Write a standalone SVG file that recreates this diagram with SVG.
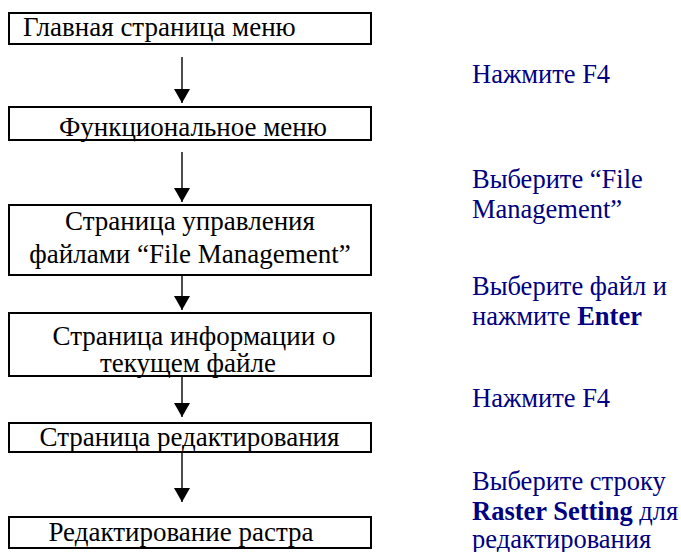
<svg xmlns="http://www.w3.org/2000/svg" width="681" height="552" viewBox="0 0 681 552">
<style>
.box{fill:#fff;stroke:#000;stroke-width:2}
.t{font-family:"Liberation Serif","Times New Roman",serif;font-size:27px;fill:#000}
.c{text-anchor:middle}
.n{font-family:"Liberation Serif","Times New Roman",serif;font-size:26.5px;fill:#000080}
.b{font-weight:bold}
.arr{stroke:#000;stroke-width:1.4;fill:none;marker-end:url(#ah)}
</style>
<defs>
<marker id="ah" viewBox="0 0 14 16" refX="14" refY="8" markerWidth="14" markerHeight="16" markerUnits="userSpaceOnUse" orient="auto">
<path d="M0,0 L14,8 L0,16 z" fill="#000"/>
</marker>
</defs>
<g id="connectors">
<line class="arr" x1="182" y1="57" x2="182" y2="103"/>
<line class="arr" x1="182" y1="152" x2="182" y2="202"/>
<line class="arr" x1="182" y1="263" x2="182" y2="310"/>
<line class="arr" x1="182" y1="363" x2="182" y2="417"/>
<line class="arr" x1="182" y1="452" x2="182" y2="502"/>
</g>
<g id="n1"><rect class="box" x="9" y="13" width="362" height="31"/><text class="t" x="23" y="36">Главная страница меню</text></g>
<g id="n2"><rect class="box" x="9" y="107" width="362" height="33"/><text class="t c" x="193" y="136">Функциональное меню</text></g>
<g id="n3"><rect class="box" x="9" y="205" width="362" height="70"/><text class="t c" x="190" y="230">Страница управления</text><text class="t c" x="190" y="263">файлами “File Management”</text></g>
<g id="n4"><rect class="box" x="9" y="313" width="362" height="63"/><text class="t c" x="194" y="345">Страница информации о</text><text class="t c" x="188" y="372">текущем файле</text></g>
<g id="n5"><rect class="box" x="9" y="423" width="362" height="29"/><text class="t c" x="189.5" y="446">Страница редактирования</text></g>
<g id="n6"><rect class="box" x="9" y="517" width="362" height="31"/><text class="t c" x="181" y="541">Редактирование растра</text></g>
<g id="notes">
<text class="n" x="472" y="83">Нажмите F4</text>
<text class="n" x="472" y="188">Выберите “File</text>
<text class="n" x="472" y="218">Management”</text>
<text class="n" x="472" y="295">Выберите файл и</text>
<text class="n" x="472" y="325">нажмите <tspan class="b">Enter</tspan></text>
<text class="n" x="472" y="407">Нажмите F4</text>
<text class="n" x="472" y="490">Выберите строку</text>
<text class="n" x="472" y="520"><tspan class="b">Raster Setting</tspan> для</text>
<text class="n" x="472" y="548">редактирования</text>
</g>
</svg>
